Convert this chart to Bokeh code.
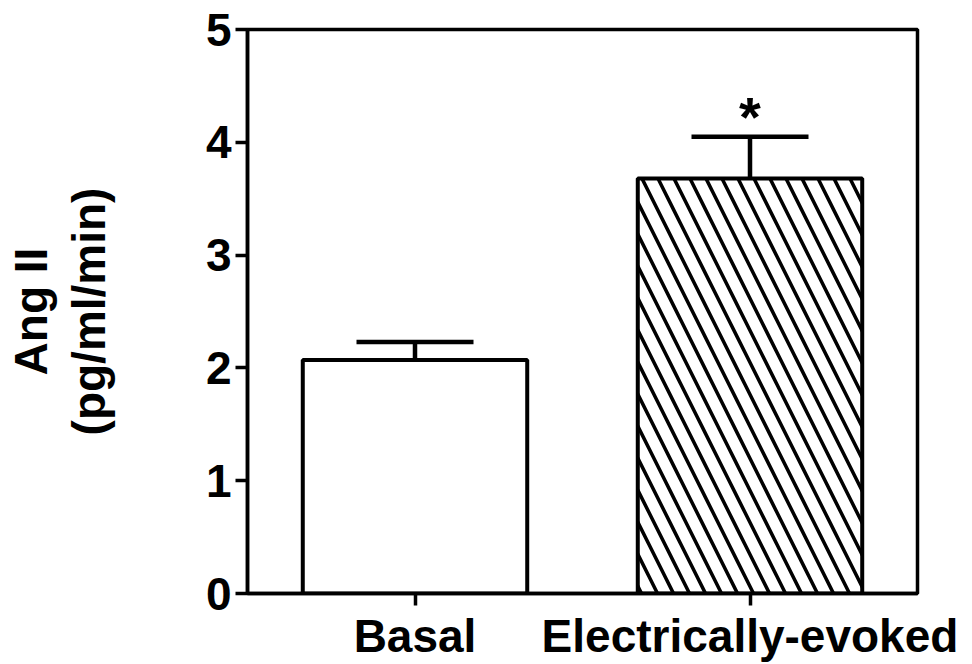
from bokeh.plotting import figure
from bokeh.models import FactorRange, Range1d, Whisker, TeeHead, ColumnDataSource, FixedTicker
from bokeh.core.properties import value
from bokeh.embed import file_html
from bokeh.resources import INLINE

categories = ["Basal", "Electrically-evoked"]
means = [2.07, 3.68]
sem_upper = [2.23, 4.05]
hatches = [" ", "\\"]
sig_labels = ["", "*"]
y_ticks = [0, 1, 2, 3, 4, 5]

FONT = "Liberation Sans"

src = ColumnDataSource(dict(cat=categories, mean=means, upper=sem_upper,
                            hatch=hatches, sig=sig_labels))

p = figure(x_range=FactorRange(factors=categories, range_padding=0),
           y_range=Range1d(0, 5),
           width=972, height=664, output_backend="svg", toolbar_location=None,
           min_border_left=247, min_border_right=55, min_border_top=29,
           min_border_bottom=71)

p.vbar(x="cat", top="mean", width=0.67, source=src, fill_color="white",
       line_color="black", line_width=4, hatch_pattern="hatch",
       hatch_color="black", hatch_weight=3.5, hatch_scale=32)

w = Whisker(base="cat", lower="mean", upper="upper", source=src,
            line_width=4.5, line_color="black",
            upper_head=TeeHead(size=117, line_width=4.5, line_color="black"),
            lower_head=None)
p.add_layout(w)

p.text(x="cat", y="upper", text="sig", source=src, text_align="center",
       text_baseline="alphabetic", text_font=value(FONT), text_font_style="bold",
       text_font_size="56px", y_offset=-20, text_color="black")

p.xgrid.visible = False
p.ygrid.visible = False
p.outline_line_color = "black"
p.outline_line_width = 3.5

p.yaxis.ticker = FixedTicker(ticks=y_ticks)
p.yaxis.minor_tick_line_color = None
for ax in [p.xaxis[0], p.yaxis[0]]:
    ax.axis_line_width = 3.5
    ax.major_tick_line_width = 3.5
    ax.major_tick_out = 12
    ax.major_tick_in = 0
    ax.major_label_text_font = FONT
    ax.major_label_text_font_style = "bold"
    ax.major_label_text_font_size = "46px"
    ax.major_label_text_color = "black"
    ax.axis_line_color = "black"
    ax.major_tick_line_color = "black"
p.yaxis.major_label_standoff = 4
p.xaxis.major_label_standoff = 4
p.xaxis.major_label_orientation = "horizontal"

p.yaxis.axis_label = "Ang II\n(pg/ml/min)"
p.yaxis.axis_label_text_font = FONT
p.yaxis.axis_label_text_font_style = "bold"
p.yaxis.axis_label_text_font_size = "46px"
p.yaxis.axis_label_text_line_height = 1.12
p.yaxis.axis_label_text_color = "black"
p.yaxis.axis_label_standoff = 88

open("out.html", "w").write(file_html(p, INLINE))
